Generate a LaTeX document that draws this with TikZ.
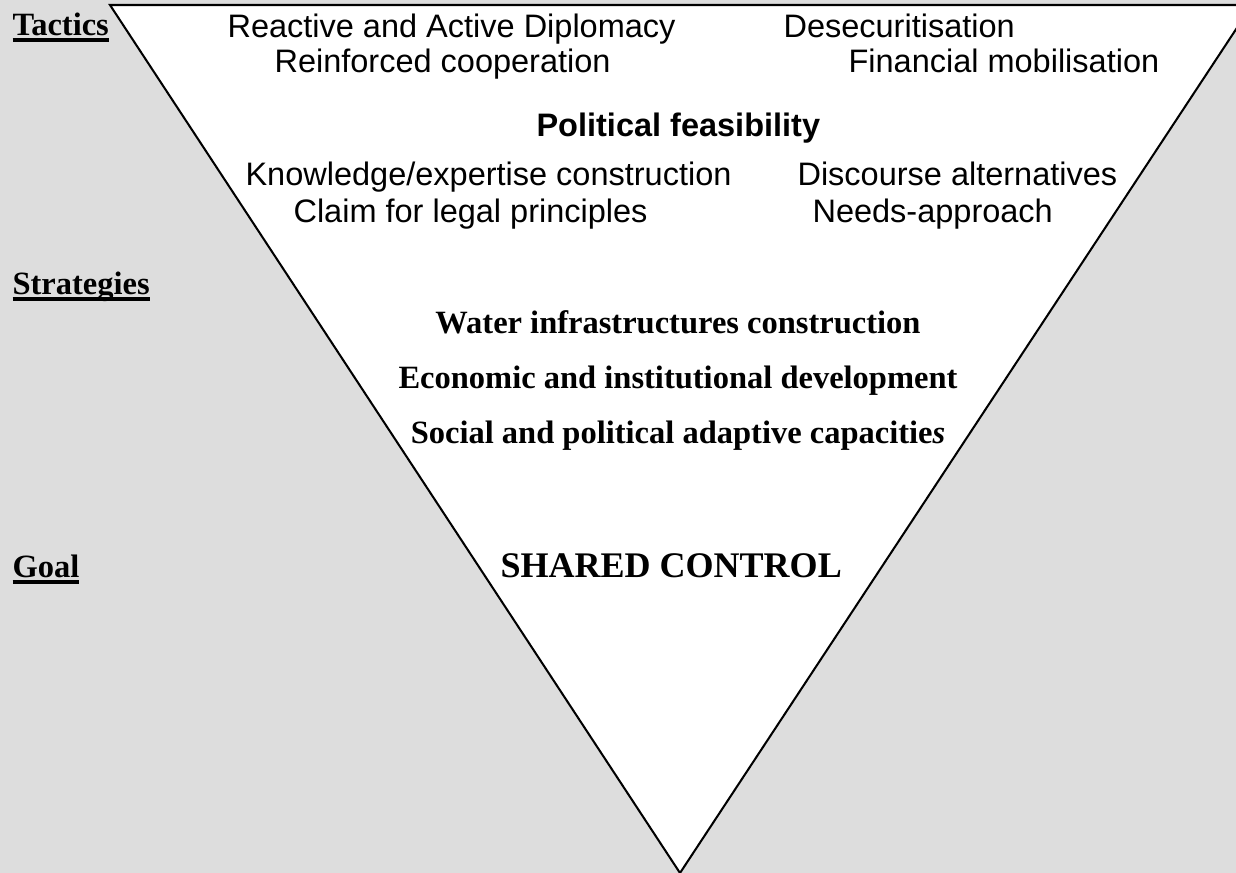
\documentclass[tikz,border=0pt]{standalone}
\usepackage{fontspec}
\setmainfont{Liberation Serif}
\newfontfamily\arialf{Liberation Sans}
\definecolor{bggray}{HTML}{DDDDDD}
\newcommand\myul[1]{\setbox0\hbox{#1}\rlap{\rule[-2.5pt]{\wd0}{1.3pt}}\box0}
\begin{document}
\begin{tikzpicture}[x=0.3692pt,y=-0.3692pt,
  tac/.style={anchor=base west,inner sep=0pt,font=\arialf\fontsize{12pt}{14pt}\selectfont},
  tacb/.style={tac,font=\arialf\bfseries\fontsize{12pt}{14pt}\selectfont},
  lbl/.style={anchor=base west,inner sep=0pt,font=\bfseries\fontsize{12pt}{14pt}\selectfont},
  strat/.style={anchor=base,inner sep=0pt,font=\bfseries\fontsize{12pt}{14pt}\selectfont},
  goalt/.style={anchor=base west,inner sep=0pt,font=\bfseries\fontsize{13.3pt}{16pt}\selectfont}]
\useasboundingbox (0,0) rectangle (1236,873);
\clip (0,0) rectangle (1236,873);
\fill[bggray] (0,0) rectangle (1236,873);
\coordinate (tl) at (110,5);
\coordinate (tr) at (1252,5);
\coordinate (ap) at (680,873);
\filldraw[fill=white,line width=0.75pt,line join=miter] (tl) -- (tr) -- (ap) -- cycle;
\node[lbl] (tactics) at (12,35) {\myul{Tactics}};
\node[tac] (t1) at (227,37) {Reactive and Active Diplomacy};
\node[tac] (t2) at (783,37) {Desecuritisation};
\node[tac] (t3) at (274,72) {Reinforced cooperation};
\node[tac] (t4) at (848,72) {Financial mobilisation};
\node[tacb] (pf) at (536,136) {Political feasibility};
\node[tac] (t5) at (245,185) {Knowledge/expertise construction};
\node[tac] (t6) at (797,185) {Discourse alternatives};
\node[tac] (t7) at (293,222) {Claim for legal principles};
\node[tac] (t8) at (812,222) {Needs-approach};
\node[lbl] (strategies) at (12,294) {\myul{Strategies}};
\node[strat] (s1) at (678,333) {Water infrastructures construction};
\node[strat] (s2) at (678,388) {Economic and institutional development};
\node[strat] (s3) at (678,443) {Social and political adaptive capacitie\textit{s}};
\node[lbl] (goal) at (12,577) {\myul{Goal}};
\node[goalt] (sc) at (500,577) {SHARED CONTROL};
\end{tikzpicture}
\end{document}
